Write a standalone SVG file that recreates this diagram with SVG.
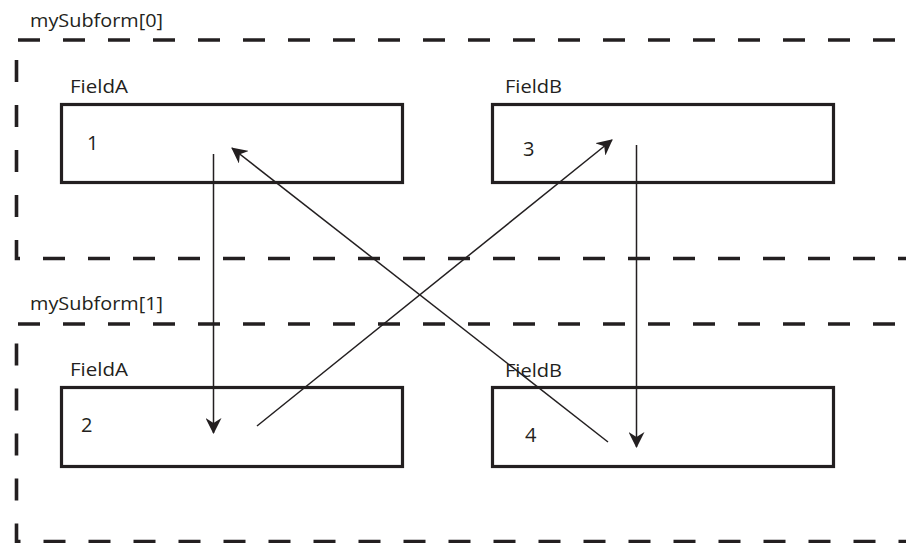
<svg xmlns="http://www.w3.org/2000/svg" width="906" height="543" viewBox="0 0 906 543">
<style>
.frame{fill:none;stroke:#231f20;stroke-width:3.6;stroke-dasharray:22 23}
.box{fill:#fff;stroke:#231f20;stroke-width:3.2}
.lbl{font-family:"Open Sans","Liberation Sans",sans-serif;font-size:18px;fill:#231f20}
.num{font-family:"Open Sans","Liberation Sans",sans-serif;font-size:20px;fill:#231f20}
.conn{fill:none;stroke:#231f20;stroke-width:1.5}
</style>
<defs>
<marker id="ah" viewBox="0 0 16 16" refX="15" refY="8" markerWidth="16" markerHeight="16" markerUnits="userSpaceOnUse" orient="auto">
<path d="M0,0 L16,8 L0,16 L5,8 z" fill="#231f20"/>
</marker>
</defs>
<g id="subform0">
<path class="frame" d="M18,40 H906"/>
<path class="frame" d="M16.5,60 V258.5 H906"/>
<text class="lbl" x="30" y="27" textLength="133" lengthAdjust="spacingAndGlyphs">mySubform[0]</text>
</g>
<g id="subform1">
<path class="frame" d="M18,324 H906"/>
<path class="frame" d="M16.5,343.5 V541.5 H906"/>
<text class="lbl" x="30" y="310" textLength="133" lengthAdjust="spacingAndGlyphs">mySubform[1]</text>
</g>
<g id="fieldA0">
<text class="lbl" x="70" y="93" textLength="58" lengthAdjust="spacingAndGlyphs">FieldA</text>
<rect class="box" x="61.5" y="104.5" width="341" height="78"/>
<text class="num" x="87" y="150">1</text>
</g>
<g id="fieldB0">
<text class="lbl" x="505" y="93" textLength="57" lengthAdjust="spacingAndGlyphs">FieldB</text>
<rect class="box" x="492.5" y="104.5" width="341" height="78"/>
<text class="num" x="523" y="156">3</text>
</g>
<g id="fieldA1">
<text class="lbl" x="70" y="376" textLength="58" lengthAdjust="spacingAndGlyphs">FieldA</text>
<rect class="box" x="61.5" y="387.5" width="341" height="79"/>
<text class="num" x="81" y="432">2</text>
</g>
<g id="fieldB1">
<text class="lbl" x="505" y="377" textLength="57" lengthAdjust="spacingAndGlyphs">FieldB</text>
<rect class="box" x="492.5" y="387.5" width="341" height="79"/>
<text class="num" x="525" y="442">4</text>
</g>
<g id="connectors">
<path class="conn" d="M213.5,154 V433" marker-end="url(#ah)"/>
<path class="conn" d="M257,426 L612,140" marker-end="url(#ah)"/>
<path class="conn" d="M608,442 L232,148" marker-end="url(#ah)"/>
<path class="conn" d="M636.5,145 V447" marker-end="url(#ah)"/>
</g>
</svg>
